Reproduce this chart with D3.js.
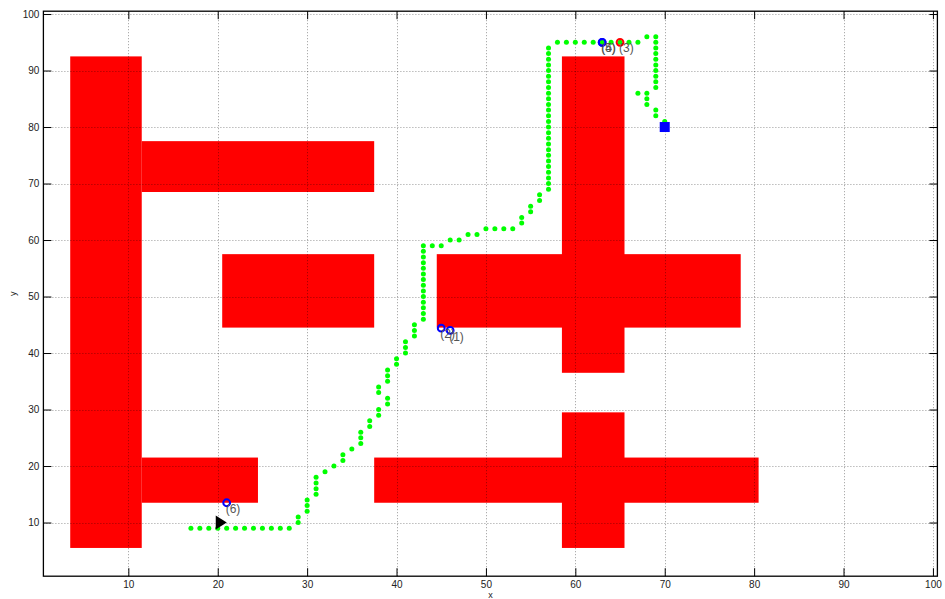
<!DOCTYPE html>
<html><head><meta charset="utf-8">
<script src="https://cdn.jsdelivr.net/npm/d3@7"></script>
<style>body{margin:0;background:#fff;}svg{display:block;font-family:"Liberation Sans",Arial,sans-serif;}</style>
</head><body>
<svg id="c" width="945" height="599"></svg>
<script>
// obstacle rectangles (data coords)
const obsX0 = [3.5, 11.5, 20.5, 11.5, 58.5, 44.5, 58.5, 37.5];
const obsX1 = [11.5, 37.5, 37.5, 24.5, 65.5, 78.5, 65.5, 80.5];
const obsY0 = [5.5, 68.5, 44.5, 13.5, 36.5, 44.5, 5.5, 13.5];
const obsY1 = [92.5, 77.5, 57.5, 21.5, 92.5, 57.5, 29.5, 21.5];

// path points
const pathX = [17,18,19,20,21,22,23,24,25,26,27,28,
  29,29,30,30,30,31,31,31,31,32,33,34,34,35,36,36,36,37,37,38,38,39,39,38,38,39,39,39,40,40,41,41,41,42,42,42,
  43,43,43,43,43,43,43,43,43,43,43,43,43,43,
  44,45,46,47,48,49,50,51,52,53,54,54,55,55,56,56,
  57,57,57,57,57,57,57,57,57,57,57,57,57,57,57,57,57,57,57,57,57,57,57,57,57,57,
  58,59,60,61,62,63,64,65,66,67,
  68,69,69,69,69,69,69,69,69,69,69,
  67,68,68,68,69,69,70];
const pathY = [9,9,9,9,9,9,9,9,9,9,9,9,
  10,11,12,13,14,15,16,17,18,19,20,21,22,23,24,25,26,27,28,29,30,31,32,33,34,35,36,37,38,39,40,41,42,43,44,45,
  46,47,48,49,50,51,52,53,54,55,56,57,58,59,
  59,59,60,60,61,61,62,62,62,62,63,64,65,66,67,68,
  69,70,71,72,73,74,75,76,77,78,79,80,81,82,83,84,85,86,87,88,89,90,91,92,93,94,
  95,95,95,95,95,95,95,95,95,95,
  96,96,95,94,93,92,91,90,89,88,87,
  86,86,85,84,83,82,81];

// labelled markers
const markX = [46, 45, 65, 63, 63, 21];
const markY = [44, 44.4, 95, 95, 95, 13.5];
const markLabels = ["(1)", "(2)", "(3)", "(4)", "(5)", "(6)"];
const markKind = ["b", "b", "r", "b", "b", "b"];

const startPt = [20, 10];
const goalPt = [70, 80];

const ticks = [10,20,30,40,50,60,70,80,90,100];

const svg = d3.select("#c");
const L = 43.4, R = 937.4, T = 11.2, B = 576.2;
const x = d3.scaleLinear().domain([0.5, 100.5]).range([L, R]);
const y = d3.scaleLinear().domain([0.5, 100.5]).range([B, T]);

// obstacles
svg.append("g").selectAll("rect").data(obsX0.map((d,i)=>i)).join("rect")
  .attr("x", i => x(obsX0[i])).attr("y", i => y(obsY1[i]))
  .attr("width", i => x(obsX1[i]) - x(obsX0[i]))
  .attr("height", i => y(obsY0[i]) - y(obsY1[i]))
  .attr("fill", "#ff0000");

// grid
const grid = svg.append("g").attr("stroke", "#000").attr("stroke-opacity", 0.4)
  .attr("stroke-width", 1).attr("stroke-dasharray", "1,2");
grid.selectAll("line.v").data(ticks).join("line").attr("class","v")
  .attr("x1", d => Math.round(x(d))+0.5).attr("x2", d => Math.round(x(d))+0.5)
  .attr("y1", T).attr("y2", B);
grid.selectAll("line.h").data(ticks).join("line").attr("class","h")
  .attr("y1", d => Math.round(y(d))+0.5).attr("y2", d => Math.round(y(d))+0.5)
  .attr("x1", L).attr("x2", R);

// axes
const ax = svg.append("g");
const axBottom = ax.append("g").attr("transform", `translate(0,${B})`)
  .call(d3.axisBottom(x).tickValues(ticks).tickSizeInner(-8).tickSizeOuter(0).tickPadding(5));
const axLeft = ax.append("g").attr("transform", `translate(${L},0)`)
  .call(d3.axisLeft(y).tickValues(ticks).tickSizeInner(-8).tickSizeOuter(0).tickPadding(4));
const axTop = ax.append("g").attr("transform", `translate(0,${T})`)
  .call(d3.axisTop(x).tickValues(ticks).tickSizeInner(-8).tickSizeOuter(0).tickFormat(""));
const axRight = ax.append("g").attr("transform", `translate(${R},0)`)
  .call(d3.axisRight(y).tickValues(ticks).tickSizeInner(-8).tickSizeOuter(0).tickFormat(""));
[axBottom,axLeft,axTop,axRight].forEach(g => {
  g.select(".domain").remove();
  g.selectAll("line").attr("stroke", "#000").attr("stroke-width", 1);
  g.selectAll("text").attr("font-size", 10).attr("fill", "#222")
    .attr("font-family", "'Liberation Sans',Arial,sans-serif");
});
svg.append("rect").attr("x", L).attr("y", T).attr("width", R-L).attr("height", B-T)
  .attr("fill", "none").attr("stroke", "#000").attr("stroke-width", 1.3);

svg.append("text").attr("x", (L+R)/2).attr("y", 598).attr("text-anchor","middle")
  .attr("font-size", 9).attr("fill","#222").text("x");
svg.append("text").attr("transform", `translate(16,${(T+B)/2}) rotate(-90)`)
  .attr("text-anchor","middle").attr("font-size", 9).attr("fill","#222").text("y");

// path dots
svg.append("g").selectAll("circle").data(pathX.map((d,i)=>i)).join("circle")
  .attr("cx", i => x(pathX[i])).attr("cy", i => y(pathY[i])).attr("r", 2.5)
  .attr("fill", "#00ff00");

// start marker (right-pointing triangle)
const sx = x(startPt[0]), sy = y(startPt[1]);
svg.append("path").attr("d", `M${sx-2},${sy-7}L${sx+9},${sy}L${sx-2},${sy+7}Z`).attr("fill", "#000");

// goal marker
const gx = x(goalPt[0]), gy = y(goalPt[1]);
svg.append("rect").attr("x", gx-5).attr("y", gy-5).attr("width", 10).attr("height", 10).attr("fill", "#0000ff");

// labelled markers
const mg = svg.append("g");
markX.forEach((mx, i) => {
  const cx = x(mx), cy = y(markY[i]);
  mg.append("circle").attr("cx", cx).attr("cy", cy).attr("r", 3.4)
    .attr("fill", "none").attr("stroke", markKind[i] === "r" ? "#ff0000" : "#0000ff").attr("stroke-width", 2);
  mg.append("text").attr("x", cx - 1).attr("y", cy + 7).attr("dominant-baseline", "middle")
    .attr("font-size", 12).attr("fill", "#555").text(markLabels[i]);
});
</script>
</body></html>
